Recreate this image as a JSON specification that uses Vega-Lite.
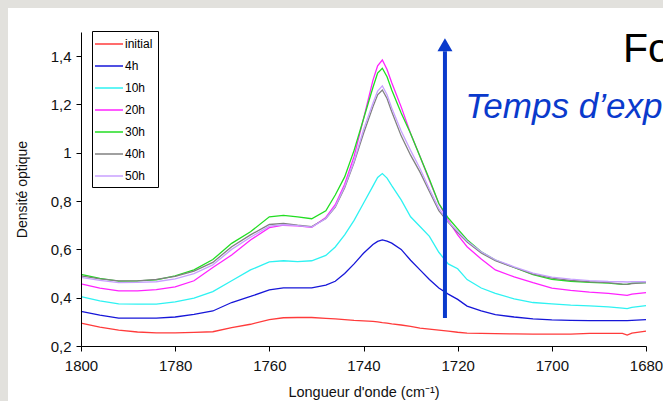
{
  "$schema": "https://vega.github.io/schema/vega-lite/v6.json",
  "width": 565,
  "height": 314,
  "autosize": {"type": "none"},
  "padding": {"left": 81, "top": 32, "right": 17, "bottom": 55},
  "background": "#e2e1dd",
  "config": {
    "font": "Liberation Sans",
    "view": {"stroke": null},
    "axis": {"grid": false, "domainColor": "#000000", "tickColor": "#000000", "labelColor": "#111111", "titleColor": "#111111", "titleFontWeight": "normal", "labelFont": "Liberation Sans", "titleFont": "Liberation Sans", "tickSize": 5, "domainWidth": 1, "tickWidth": 1}
  },
  "layer": [
    {
      "data": {"values": [{"p": 1}]},
      "mark": {"type": "rect", "fill": "#ffffff", "clip": false},
      "encoding": {
        "x": {"datum": 1815.5, "type": "quantitative", "scale": {"domain": [1680, 1800], "reverse": true, "nice": false, "zero": false}},
        "x2": {"datum": 1650},
        "y": {"datum": 1.599, "type": "quantitative", "scale": {"domain": [0.2, 1.5], "nice": false, "zero": false}},
        "y2": {"datum": -0.1}
      }
    },
    {
      "data": {"values": [
        {"wn":1800,"initial":0.295,"4h":0.343,"10h":0.404,"20h":0.457,"30h":0.497,"40h":0.490,"50h":0.484},
        {"wn":1796,"initial":0.278,"4h":0.328,"10h":0.387,"20h":0.440,"30h":0.480,"40h":0.478,"50h":0.472},
        {"wn":1792,"initial":0.266,"4h":0.315,"10h":0.374,"20h":0.428,"30h":0.469,"40h":0.470,"50h":0.462},
        {"wn":1788,"initial":0.258,"4h":0.315,"10h":0.373,"20h":0.428,"30h":0.470,"40h":0.470,"50h":0.463},
        {"wn":1784,"initial":0.254,"4h":0.315,"10h":0.373,"20h":0.433,"30h":0.474,"40h":0.476,"50h":0.466},
        {"wn":1780,"initial":0.254,"4h":0.320,"10h":0.383,"20h":0.445,"30h":0.490,"40h":0.488,"50h":0.478},
        {"wn":1776,"initial":0.256,"4h":0.331,"10h":0.398,"20h":0.470,"30h":0.515,"40h":0.510,"50h":0.500},
        {"wn":1772,"initial":0.259,"4h":0.345,"10h":0.425,"20h":0.525,"30h":0.558,"40h":0.546,"50h":0.536},
        {"wn":1768,"initial":0.276,"4h":0.380,"10h":0.470,"20h":0.577,"30h":0.625,"40h":0.611,"50h":0.600},
        {"wn":1764,"initial":0.290,"4h":0.405,"10h":0.515,"20h":0.639,"30h":0.673,"40h":0.660,"50h":0.650},
        {"wn":1760,"initial":0.309,"4h":0.432,"10h":0.548,"20h":0.690,"30h":0.735,"40h":0.703,"50h":0.696},
        {"wn":1757,"initial":0.317,"4h":0.441,"10h":0.553,"20h":0.700,"30h":0.741,"40h":0.708,"50h":0.702},
        {"wn":1754,"initial":0.318,"4h":0.441,"10h":0.549,"20h":0.697,"30h":0.735,"40h":0.700,"50h":0.698},
        {"wn":1751,"initial":0.318,"4h":0.441,"10h":0.553,"20h":0.691,"30h":0.727,"40h":0.694,"50h":0.692},
        {"wn":1748,"initial":0.314,"4h":0.452,"10h":0.575,"20h":0.732,"30h":0.760,"40h":0.728,"50h":0.728},
        {"wn":1746,"initial":0.312,"4h":0.468,"10h":0.610,"20h":0.785,"30h":0.825,"40h":0.775,"50h":0.778},
        {"wn":1744,"initial":0.309,"4h":0.500,"10h":0.660,"20h":0.870,"30h":0.900,"40h":0.855,"50h":0.860},
        {"wn":1742,"initial":0.306,"4h":0.540,"10h":0.720,"20h":0.985,"30h":1.010,"40h":0.960,"50h":0.965},
        {"wn":1740,"initial":0.304,"4h":0.584,"10h":0.791,"20h":1.140,"30h":1.140,"40h":1.080,"50h":1.095},
        {"wn":1738,"initial":0.302,"4h":0.620,"10h":0.862,"20h":1.300,"30h":1.270,"40h":1.190,"50h":1.205},
        {"wn":1737,"initial":0.300,"4h":0.633,"10h":0.898,"20h":1.360,"30h":1.330,"40h":1.240,"50h":1.255},
        {"wn":1736,"initial":0.297,"4h":0.639,"10h":0.914,"20h":1.384,"30h":1.350,"40h":1.260,"50h":1.277},
        {"wn":1735,"initial":0.295,"4h":0.634,"10h":0.895,"20h":1.345,"30h":1.315,"40h":1.225,"50h":1.240},
        {"wn":1734,"initial":0.292,"4h":0.626,"10h":0.864,"20h":1.290,"30h":1.260,"40h":1.170,"50h":1.185},
        {"wn":1732,"initial":0.287,"4h":0.600,"10h":0.805,"20h":1.190,"30h":1.165,"40h":1.070,"50h":1.090},
        {"wn":1730,"initial":0.281,"4h":0.555,"10h":0.735,"20h":1.080,"30h":1.080,"40h":0.990,"50h":1.010},
        {"wn":1728,"initial":0.274,"4h":0.515,"10h":0.695,"20h":0.985,"30h":0.985,"40h":0.920,"50h":0.935},
        {"wn":1726,"initial":0.270,"4h":0.475,"10h":0.654,"20h":0.885,"30h":0.890,"40h":0.840,"50h":0.850},
        {"wn":1724,"initial":0.266,"4h":0.440,"10h":0.588,"20h":0.790,"30h":0.790,"40h":0.760,"50h":0.770},
        {"wn":1722,"initial":0.262,"4h":0.415,"10h":0.540,"20h":0.720,"30h":0.730,"40h":0.712,"50h":0.715},
        {"wn":1720,"initial":0.257,"4h":0.393,"10h":0.520,"20h":0.660,"30h":0.685,"40h":0.670,"50h":0.675},
        {"wn":1718,"initial":0.253,"4h":0.365,"10h":0.475,"20h":0.611,"30h":0.640,"40h":0.630,"50h":0.635},
        {"wn":1715,"initial":0.252,"4h":0.345,"10h":0.440,"20h":0.560,"30h":0.590,"40h":0.585,"50h":0.590},
        {"wn":1712,"initial":0.251,"4h":0.330,"10h":0.418,"20h":0.515,"30h":0.556,"40h":0.553,"50h":0.557},
        {"wn":1708,"initial":0.250,"4h":0.320,"10h":0.395,"20h":0.486,"30h":0.525,"40h":0.525,"50h":0.528},
        {"wn":1704,"initial":0.249,"4h":0.312,"10h":0.380,"20h":0.462,"30h":0.495,"40h":0.498,"50h":0.502},
        {"wn":1700,"initial":0.249,"4h":0.308,"10h":0.374,"20h":0.440,"30h":0.476,"40h":0.481,"50h":0.485},
        {"wn":1696,"initial":0.249,"4h":0.306,"10h":0.369,"20h":0.430,"30h":0.468,"40h":0.472,"50h":0.477},
        {"wn":1692,"initial":0.252,"4h":0.305,"10h":0.366,"20h":0.423,"30h":0.463,"40h":0.466,"50h":0.471},
        {"wn":1688,"initial":0.252,"4h":0.305,"10h":0.362,"20h":0.418,"30h":0.460,"40h":0.462,"50h":0.467},
        {"wn":1685,"initial":0.252,"4h":0.305,"10h":0.357,"20h":0.412,"30h":0.455,"40h":0.456,"50h":0.466},
        {"wn":1684,"initial":0.245,"4h":0.305,"10h":0.355,"20h":0.410,"30h":0.455,"40h":0.455,"50h":0.465},
        {"wn":1683,"initial":0.253,"4h":0.306,"10h":0.360,"20h":0.415,"30h":0.460,"40h":0.458,"50h":0.466},
        {"wn":1680,"initial":0.262,"4h":0.309,"10h":0.367,"20h":0.421,"30h":0.462,"40h":0.462,"50h":0.466}
      ]},
      "transform": [{"fold": ["initial", "4h", "10h", "20h", "30h", "40h", "50h"], "as": ["serie", "value"]}],
      "mark": {"type": "line", "strokeWidth": 1.3},
      "encoding": {
        "x": {"field": "wn", "type": "quantitative", "scale": {"domain": [1680, 1800], "reverse": true, "nice": false, "zero": false},
          "axis": {"zindex": 2, "values": [1800, 1780, 1760, 1740, 1720, 1700, 1680], "format": "d", "title": "Longueur d'onde (cm⁻¹)", "labelFontSize": 15, "titleFontSize": 14.5, "labelPadding": 7, "titlePadding": 12, "labelFlush": false}},
        "y": {"field": "value", "type": "quantitative", "scale": {"domain": [0.2, 1.5], "nice": false, "zero": false},
          "axis": {"zindex": 2, "values": [0.2, 0.4, 0.6, 0.8, 1, 1.2, 1.4], "labelExpr": "replace(format(datum.value, '.2~f'), '.', ',')", "title": "Densité optique", "labelFontSize": 15, "titleFontSize": 14, "labelPadding": 5, "titlePadding": 21}},
        "color": {"field": "serie", "type": "nominal",
          "scale": {"domain": ["initial", "4h", "10h", "20h", "30h", "40h", "50h"], "range": ["#ff3b3b", "#1616d8", "#2ef2f2", "#ff22ff", "#22dd22", "#808080", "#c8a0ff"]},
          "legend": {"title": null, "orient": "none", "legendX": 11, "legendY": -1, "fillColor": "#ffffff", "strokeColor": "#000000", "padding": 5, "labelFontSize": 12, "labelColor": "#000000", "symbolType": "M-2,0H2", "symbolSize": 196, "symbolStrokeWidth": 1.5, "symbolOffset": 4, "labelOffset": 8, "rowPadding": 8, "zindex": 1}}
      }
    },
    {
      "data": {"values": [{"p": 1}]},
      "mark": {"type": "rule", "color": "#0a3acc", "strokeWidth": 4},
      "encoding": {
        "x": {"datum": 1722.7, "type": "quantitative"},
        "y": {"datum": 0.316, "type": "quantitative"},
        "y2": {"datum": 1.42}
      }
    },
    {
      "data": {"values": [{"p": 1}]},
      "mark": {"type": "point", "shape": "triangle-up", "filled": true, "color": "#0a3acc", "opacity": 1, "size": 225},
      "encoding": {
        "x": {"datum": 1722.7, "type": "quantitative"},
        "y": {"datum": 1.447, "type": "quantitative"}
      }
    },
    {
      "data": {"values": [{"p": 1}]},
      "mark": {"type": "text", "align": "left", "baseline": "alphabetic", "fontSize": 41, "color": "#000000", "font": "Liberation Sans", "clip": false},
      "encoding": {
        "x": {"datum": 1684.9, "type": "quantitative"},
        "y": {"datum": 1.376, "type": "quantitative"},
        "text": {"value": "Formation"}
      }
    },
    {
      "data": {"values": [{"p": 1}]},
      "mark": {"type": "text", "align": "left", "baseline": "alphabetic", "fontSize": 35, "fontStyle": "italic", "color": "#0a3acc", "font": "Liberation Sans", "clip": false},
      "encoding": {
        "x": {"datum": 1718.4, "type": "quantitative"},
        "y": {"datum": 1.143, "type": "quantitative"},
        "text": {"value": "Temps d’exposition"}
      }
    }
  ]
}
